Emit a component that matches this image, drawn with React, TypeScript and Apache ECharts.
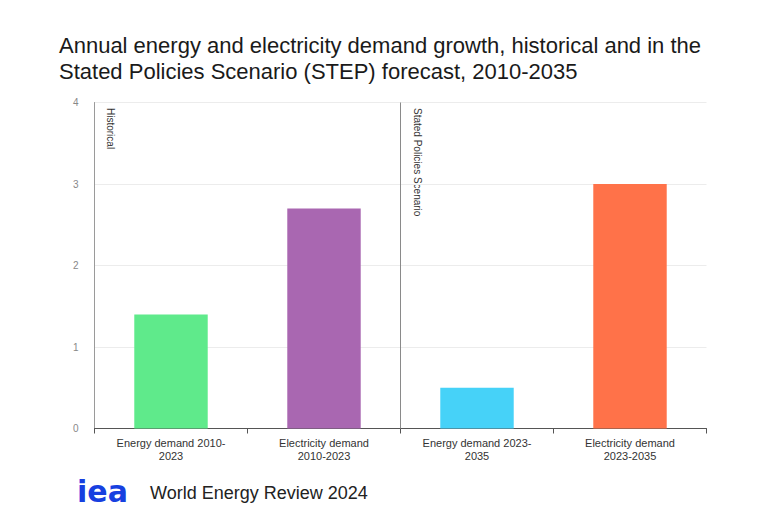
import React, { useEffect, useRef } from "react";
import * as echarts from "echarts";

const categories = [
  "Energy demand 2010-\n2023",
  "Electricity demand\n2010-2023",
  "Energy demand 2023-\n2035",
  "Electricity demand\n2023-2035",
];
const values = [1.4, 2.7, 0.5, 3.0];
const barColors = ["#5fea8b", "#a967b1", "#46d2f8", "#ff7249"];
const yTicks = [0, 1, 2, 3, 4];
const periodBoundary = 2; // categories before this index are historical
const titleLines = [
  "Annual energy and electricity demand growth, historical and in the",
  "Stated Policies Scenario (STEP) forecast, 2010-2035",
];
const periodLabels = ["Historical", "Stated Policies Scenario"];
const footerText = "World Energy Review 2024";

export default function App() {
  const ref = useRef<HTMLDivElement>(null);
  useEffect(() => {
    if (!ref.current) return;
    const chart = echarts.init(ref.current, null, { renderer: "svg" });
    const font = "Liberation Sans, Arial, sans-serif";
    chart.setOption({
      animation: false,
      backgroundColor: "#ffffff",
      grid: { left: 94.5, top: 102.5, width: 612, height: 326, containLabel: false },
      xAxis: [
        {
          type: "category",
          data: categories,
          axisLine: { show: true, lineStyle: { color: "#555", width: 1 } },
          axisTick: { show: true, length: 5, lineStyle: { color: "#555" } },
          axisLabel: {
            color: "#333",
            fontSize: 11,
            fontFamily: font,
            margin: 8,
            lineHeight: 13,
            interval: 0,
          },
          splitLine: { show: false },
        },
        {
          type: "value",
          min: 0,
          max: categories.length,
          show: false,
          splitLine: { show: false },
        },
      ],
      yAxis: {
        type: "value",
        min: yTicks[0],
        max: yTicks[yTicks.length - 1],
        interval: 1,
        axisLine: { show: true, lineStyle: { color: "#9a9a9a", width: 1 } },
        axisTick: { show: false },
        axisLabel: { color: "#888", fontSize: 10, fontFamily: font, margin: 16 },
        splitLine: { show: true, lineStyle: { color: "#ececec", width: 1 } },
      },
      series: [
        {
          type: "bar",
          data: values.map((v, i) => ({ value: v, itemStyle: { color: barColors[i] } })),
          barWidth: "48%",
        },
        {
          type: "line",
          xAxisIndex: 1,
          data: [],
          markLine: {
            silent: true,
            symbol: "none",
            label: { show: false },
            lineStyle: { color: "#8a8a8a", width: 1, type: "solid" },
            data: [{ xAxis: periodBoundary }],
          },
        },
      ],
      graphic: [
        {
          type: "text",
          left: 59,
          top: 32,
          style: {
            text: titleLines.join("\n"),
            fontSize: 22,
            lineHeight: 26,
            fontFamily: font,
            fill: "#1a1a1a",
          },
        },
        {
          type: "text",
          x: 105,
          y: 108,
          rotation: -Math.PI / 2,
          style: {
            text: periodLabels[0],
            fontSize: 10,
            fontFamily: font,
            fill: "#333",
            textAlign: "left",
            textVerticalAlign: "bottom",
          },
        },
        {
          type: "text",
          x: 412,
          y: 108,
          rotation: -Math.PI / 2,
          style: {
            text: periodLabels[1],
            fontSize: 10,
            fontFamily: font,
            fill: "#333",
            textAlign: "left",
            textVerticalAlign: "bottom",
          },
        },
        {
          type: "text",
          left: 77,
          top: 476,
          style: {
            text: "iea",
            fontSize: 30,
            fontWeight: "bold",
            fontFamily: "DejaVu Sans, sans-serif",
            fill: "#1740e0",
          },
        },
        {
          type: "text",
          left: 150,
          top: 484,
          style: {
            text: footerText,
            fontSize: 18,
            fontFamily: font,
            fill: "#222",
          },
        },
      ],
    });
    return () => chart.dispose();
  }, []);
  return <div ref={ref} style={{ width: 776, height: 514, position: "absolute", left: 0, top: 0 }} />;
}
